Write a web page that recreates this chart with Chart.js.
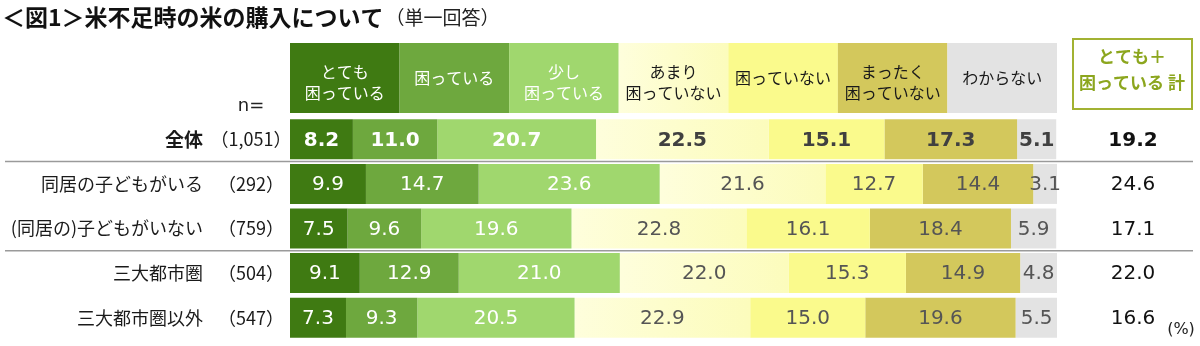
<!DOCTYPE html>
<html lang="ja">
<head>
<meta charset="utf-8">
<title>米不足時の米の購入について</title>
<script src="https://cdn.jsdelivr.net/npm/chart.js@4.4.1/dist/chart.umd.min.js"></script>
<style>
  html, body { margin: 0; padding: 0; background: #fff; }
  #wrap { position: relative; width: 1200px; height: 346px; }
</style>
</head>
<body>
<div id="wrap"><canvas id="riceChart" width="1200" height="346"></canvas></div>
<script>
// ---- data ----
const categories = ['とても困っている', '困っている', '少し困っている', 'あまり困っていない', '困っていない', 'まったく困っていない', 'わからない'];
const headerLines = [['とても', '困っている'], ['困っている'], ['少し', '困っている'], ['あまり', '困っていない'], ['困っていない'], ['まったく', '困っていない'], ['わからない']];
const groups = ['全体', '同居の子どもがいる', '(同居の)子どもがいない', '三大都市圏', '三大都市圏以外'];
const sampleSizes = ['1,051', '292', '759', '504', '547'];

const veryTroubled   = [8.2, 9.9, 7.5, 9.1, 7.3];
const troubled       = [11.0, 14.7, 9.6, 12.9, 9.3];
const slightly       = [20.7, 23.6, 19.6, 21.0, 20.5];
const notMuch        = [22.5, 21.6, 22.8, 22.0, 22.9];
const notTroubled    = [15.1, 12.7, 16.1, 15.3, 15.0];
const notAtAll       = [17.3, 14.4, 18.4, 14.9, 19.6];
const dontKnow       = [5.1, 3.1, 5.9, 4.8, 5.5];
const troubledTotal  = [19.2, 24.6, 17.1, 22.0, 16.6];

const seriesValues = [veryTroubled, troubled, slightly, notMuch, notTroubled, notAtAll, dontKnow];

// ---- styles ----
const colors = ['#3f7a12', '#6ea83e', '#a0d76e', null, '#fafa8c', '#d3c85c', '#e3e3e3'];
const onGreen = [true, true, true, false, false, false, false];
const JP = '"Noto Sans CJK JP", sans-serif';
const NUM = '"DejaVu Sans", "Noto Sans CJK JP", sans-serif';
const separatorsAfter = [0, 2];

// pale yellow segment fades from near white to light yellow
function fillFor(ctx, i, x0, x1) {
    if (colors[i]) return colors[i];
    if (!isFinite(x0) || !isFinite(x1) || x1 <= x0) return '#fdfdd0';
    const g = ctx.createLinearGradient(x0, 0, x1, 0);
    g.addColorStop(0, '#fefedc');
    g.addColorStop(1, '#fcfcbc');
    return g;
}

function segmentColor(context) {
    const chart = context.chart;
    const i = context.datasetIndex;
    if (colors[i]) return colors[i];
    const xs = chart.scales.x;
    if (!xs || context.dataIndex === undefined) return '#fdfdd0';
    let start = 0;
    for (let k = 0; k < i; k++) start += seriesValues[k][context.dataIndex];
    const end = start + seriesValues[i][context.dataIndex];
    return fillFor(chart.ctx, i, xs.getPixelForValue(start), xs.getPixelForValue(end));
}

const tablePlugin = {
    id: 'tableDecor',
    beforeDatasetsDraw(chart) {
        const ctx = chart.ctx;
        const xs = chart.scales.x;
        const top = 43, h = 70;
        ctx.save();

        // title
        ctx.textBaseline = 'middle';
        ctx.textAlign = 'left';
        ctx.fillStyle = '#111';
        ctx.font = 'bold 23px ' + JP;
        const title = '＜図1＞米不足時の米の購入について';
        ctx.fillText(title, 2, 17);
        const tw = ctx.measureText(title).width;
        ctx.font = '19px ' + JP;
        ctx.fillStyle = '#222';
        ctx.fillText('（単一回答）', 2 + tw + 2, 18);

        // header cells, one per answer
        const n = categories.length;
        for (let i = 0; i < n; i++) {
            const x0 = xs.getPixelForValue(i * 100 / n);
            const x1 = xs.getPixelForValue((i + 1) * 100 / n);
            ctx.fillStyle = fillFor(ctx, i, x0, x1);
            ctx.fillRect(x0, top, x1 - x0, h);
            ctx.fillStyle = onGreen[i] ? '#ffffff' : '#1a1a1a';
            ctx.font = '16px ' + JP;
            ctx.textAlign = 'center';
            const lines = headerLines[i];
            const cx = (x0 + x1) / 2;
            if (lines.length === 2) {
                ctx.fillText(lines[0], cx, top + 29);
                ctx.fillText(lines[1], cx, top + 50);
            } else {
                ctx.fillText(lines[0], cx, top + h / 2);
            }
        }

        // total column header box
        ctx.strokeStyle = '#a2b232';
        ctx.lineWidth = 2;
        ctx.strokeRect(1073, 39, 119, 70);
        ctx.fillStyle = '#8ca61e';
        ctx.font = 'bold 17px ' + JP;
        ctx.fillText('とても＋', 1132, 57);
        ctx.fillText('困っている 計', 1132, 83);

        // n=
        ctx.fillStyle = '#222';
        ctx.font = '18px ' + NUM;
        ctx.fillText('n=', 251, 106);
        ctx.restore();
    },
    afterDatasetsDraw(chart) {
        const ctx = chart.ctx;
        ctx.save();
        ctx.textBaseline = 'middle';

        // segment values
        chart.data.datasets.forEach((ds, di) => {
            const meta = chart.getDatasetMeta(di);
            meta.data.forEach((bar, ri) => {
                const bold = ri === 0;
                ctx.font = (bold ? 'bold 20px ' : '20px ') + NUM;
                ctx.fillStyle = onGreen[di] ? '#ffffff' : (bold ? '#404040' : '#555555');
                ctx.textAlign = 'center';
                ctx.fillText(ds.data[ri].toFixed(1), (bar.x + bar.base) / 2, bar.y + 1);
            });
        });

        // row labels, n and totals
        const rows = chart.getDatasetMeta(0).data;
        rows.forEach((bar, ri) => {
            const y = bar.y;
            const bold = ri === 0;
            ctx.fillStyle = '#1a1a1a';
            ctx.textAlign = 'right';
            ctx.font = (bold ? 'bold 19px ' : '18px ') + JP;
            ctx.fillText(groups[ri], 203, y);
            ctx.textAlign = 'center';
            ctx.font = '18px ' + JP;
            ctx.fillText('（' + sampleSizes[ri] + '）', 251, y);
            ctx.font = (bold ? 'bold 20px ' : '20px ') + NUM;
            ctx.fillStyle = '#111';
            ctx.fillText(troubledTotal[ri].toFixed(1), 1133, y + 1);
        });

        // group separators
        ctx.strokeStyle = '#9a9a9a';
        ctx.lineWidth = 1.5;
        separatorsAfter.forEach(ri => {
            const y = (rows[ri].y + rows[ri + 1].y) / 2;
            ctx.beginPath();
            ctx.moveTo(5, y);
            ctx.lineTo(1193, y);
            ctx.stroke();
        });

        // unit
        ctx.fillStyle = '#222';
        ctx.textAlign = 'center';
        ctx.font = '16px ' + NUM;
        ctx.fillText('(%)', 1181, 330);
        ctx.restore();
    }
};

const datasets = seriesValues.map((vals, i) => ({
    label: categories[i],
    data: vals,
    backgroundColor: segmentColor,
    borderWidth: 0,
    categoryPercentage: 1,
    barPercentage: 0.897
}));

const ctx = document.getElementById('riceChart').getContext('2d');
const riceChart = new Chart(ctx, {
    type: 'bar',
    data: {
        labels: groups,
        datasets: datasets
    },
    options: {
        indexAxis: 'y',
        responsive: false,
        animation: false,
        layout: {
            padding: { left: 290, right: 143, top: 117, bottom: 6 }
        },
        plugins: {
            legend: { display: false },
            tooltip: { enabled: false }
        },
        scales: {
            x: {
                stacked: true,
                min: 0,
                max: 100,
                display: false
            },
            y: {
                stacked: true,
                display: false
            }
        }
    },
    plugins: [tablePlugin]
});
</script>
</body>
</html>
